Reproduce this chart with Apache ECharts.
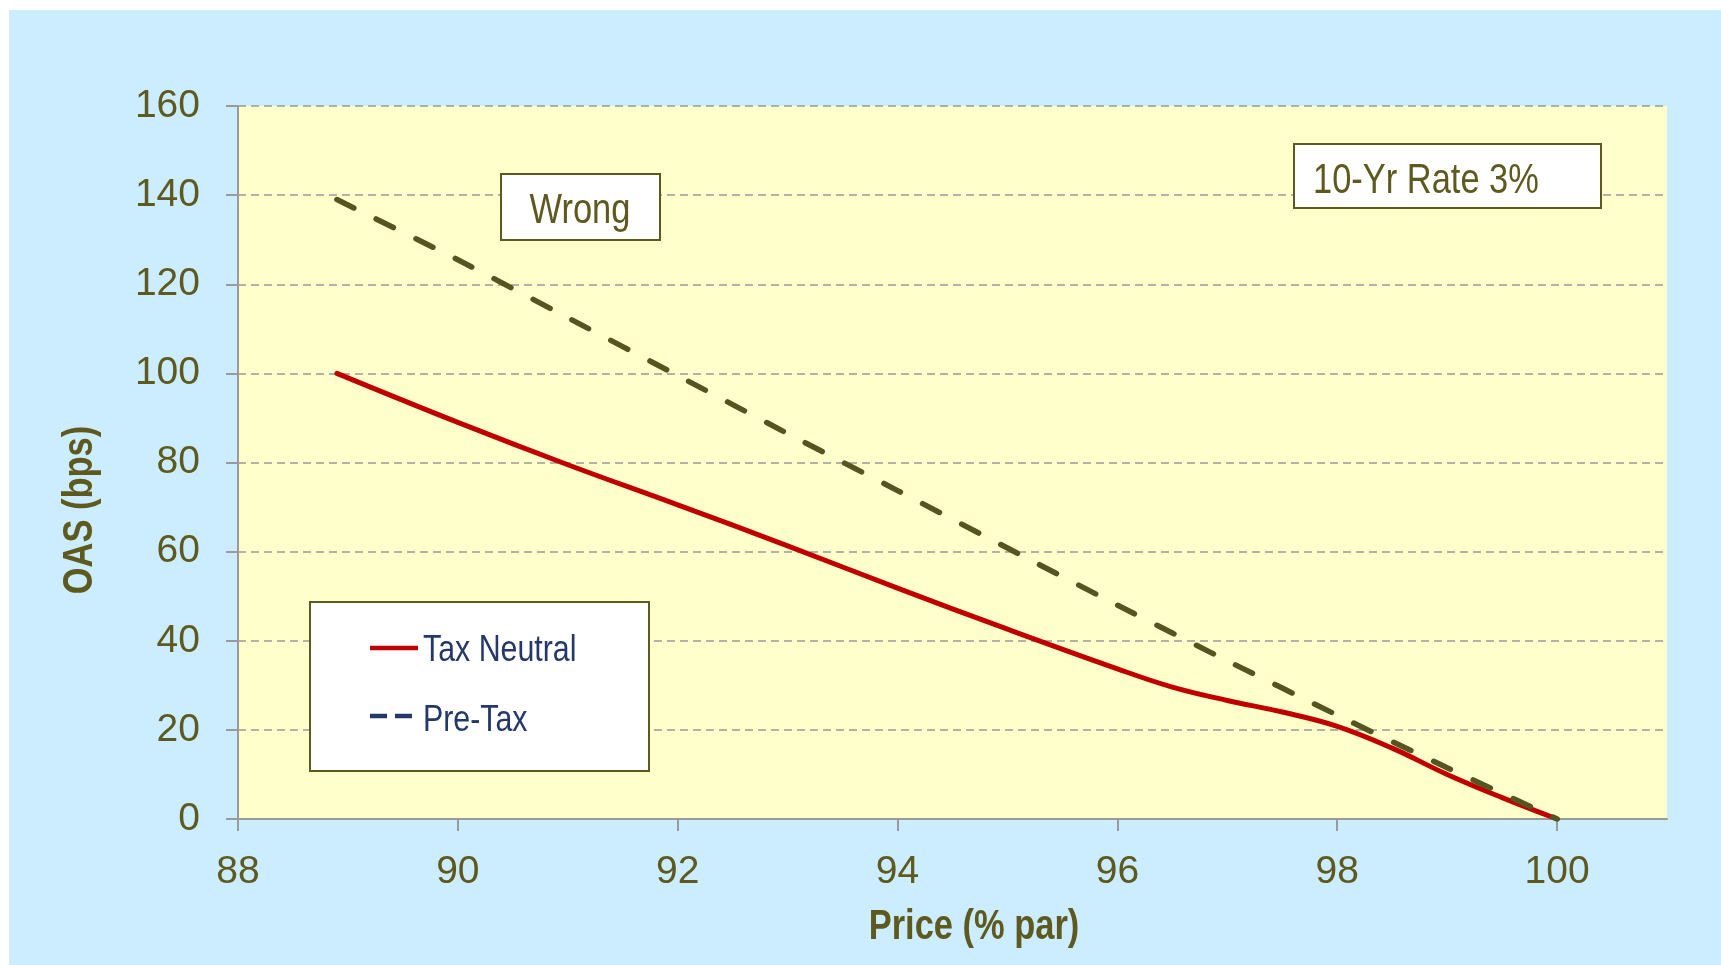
<!DOCTYPE html>
<html>
<head>
<meta charset="utf-8">
<title>OAS vs Price</title>
<script src="https://cdn.jsdelivr.net/npm/echarts@6/dist/echarts.min.js"></script>
<style>
  html, body { margin: 0; padding: 0; background: #ffffff; }
  #frame { position: absolute; left: 9px; top: 10px; right: 0; bottom: 0; background: #CCECFF; }
  #chart { position: absolute; left: 0; top: 0; width: 1721px; height: 965px; }
</style>
</head>
<body>
<div id="frame"></div>
<div id="chart"></div>
<script>
// Price (% of par) against option-adjusted spread (bps)
const taxNeutralPrice = [88.9, 90, 91, 92, 93, 94, 95, 96, 96.5, 97, 97.5, 98, 98.5, 99, 99.5, 100];
const taxNeutralOAS   = [100, 89, 79.5, 70.5, 61.3, 51.8, 42.6, 33.7, 29.6, 26.6, 24, 20.8, 15.9, 10, 4.8, 0];

const preTaxPrice = [88.9, 90, 91, 92, 93, 94, 95, 96, 97, 98, 99, 100];
const preTaxOAS   = [139, 125.5, 112.5, 99.5, 86.5, 73.7, 60.8, 48, 35.5, 23.3, 11.5, 0];

const xTicks = [88, 90, 92, 94, 96, 98, 100];
const yTicks = [0, 20, 40, 60, 80, 100, 120, 140, 160];

const seriesNames = ['Tax Neutral', 'Pre-Tax'];
const xTitle = 'Price (% par)';
const yTitle = 'OAS (bps)';
const noteWrong = 'Wrong';
const noteRate = '10-Yr Rate 3%';

const FONT = '"Liberation Sans", Arial, sans-serif';
const NARROW = 0.82;           // horizontal squeeze giving a narrow face
const OLIVE = '#5E5A1F';
const NAVY = '#24386A';
const RED = '#C00000';
const DASH_LINE = '#56541F';

const pairs = (xs, ys) => xs.map((x, i) => [x, ys[i]]);

const chart = echarts.init(document.getElementById('chart'), null, { renderer: 'canvas' });

// text helper for notes, titles and legend entries
function label(text, x, y, opts) {
  return Object.assign({
    type: 'text', x: x, y: y, z: 12, silent: true, scaleX: NARROW,
    style: {
      text: text, font: (opts.weight || '') + ' ' + opts.size + 'px ' + FONT,
      fill: opts.color, align: opts.align || 'left', verticalAlign: 'middle'
    }
  }, opts.extra || {});
}

chart.setOption({
  backgroundColor: 'transparent',
  animation: false,
  grid: {
    left: 238, right: 54, top: 106, bottom: 146,
    show: true, backgroundColor: '#FFFFCC', borderWidth: 0
  },
  xAxis: {
    type: 'value',
    min: 88, max: 101, interval: 2,
    axisLine: { show: true, lineStyle: { color: '#9A9A9A', width: 2 } },
    axisTick: { show: true, length: 12, customValues: xTicks, lineStyle: { color: '#9A9A9A', width: 2 } },
    axisLabel: {
      customValues: xTicks, margin: 34,
      color: OLIVE, fontFamily: FONT, fontSize: 39
    },
    splitLine: { show: false }
  },
  yAxis: {
    type: 'value',
    min: yTicks[0], max: yTicks[yTicks.length - 1], interval: 20,
    axisLine: { show: true, lineStyle: { color: '#9A9A9A', width: 2 } },
    axisTick: { show: true, length: 12, lineStyle: { color: '#9A9A9A', width: 2 } },
    axisLabel: { margin: 38, color: OLIVE, fontFamily: FONT, fontSize: 39 },
    splitLine: { show: true, lineStyle: { color: '#999999', width: 1.5, type: [8, 5] } }
  },
  series: [
    {
      name: seriesNames[0], type: 'line', data: pairs(taxNeutralPrice, taxNeutralOAS),
      symbol: 'none', smooth: 0.4,
      lineStyle: { color: RED, width: 5, cap: 'round', join: 'round' },
      itemStyle: { color: RED },
      z: 3
    },
    {
      name: seriesNames[1], type: 'line', data: pairs(preTaxPrice, preTaxOAS),
      symbol: 'none', smooth: 0.2,
      lineStyle: { color: DASH_LINE, width: 5.5, type: [19, 25], cap: 'round' },
      itemStyle: { color: DASH_LINE },
      z: 4
    }
  ],
  graphic: [
    // legend box
    { type: 'rect', left: 309, top: 601, z: 10, silent: true,
      shape: { width: 339, height: 169 },
      style: { fill: '#FFFFFF', stroke: OLIVE, lineWidth: 2 } },
    { type: 'line', z: 11, silent: true,
      shape: { x1: 370, y1: 648, x2: 418, y2: 648 },
      style: { stroke: RED, lineWidth: 4.5 } },
    label(seriesNames[0], 423, 651, { size: 37, color: NAVY }),
    { type: 'line', z: 11, silent: true,
      shape: { x1: 370, y1: 716, x2: 413, y2: 716 },
      style: { stroke: NAVY, lineWidth: 4.5, lineDash: [17, 8] } },
    label(seriesNames[1], 423, 721, { size: 37, color: NAVY }),

    // "Wrong" note
    { type: 'rect', left: 500, top: 173, z: 10, silent: true,
      shape: { width: 159, height: 66 },
      style: { fill: '#FFFFFF', stroke: OLIVE, lineWidth: 2 } },
    label(noteWrong, 580, 211, { size: 42, color: OLIVE, align: 'center' }),

    // rate note
    { type: 'rect', left: 1293, top: 143, z: 10, silent: true,
      shape: { width: 307, height: 64 },
      style: { fill: '#FFFFFF', stroke: OLIVE, lineWidth: 2 } },
    label(noteRate, 1313, 181, { size: 42, color: OLIVE }),

    // axis titles
    label(xTitle, 974, 927, { size: 42, weight: 'bold', color: OLIVE, align: 'center' }),
    label(yTitle, 80, 510, { size: 42, weight: 'bold', color: OLIVE, align: 'center',
      extra: { rotation: Math.PI / 2 } })
  ]
});
</script>
</body>
</html>
